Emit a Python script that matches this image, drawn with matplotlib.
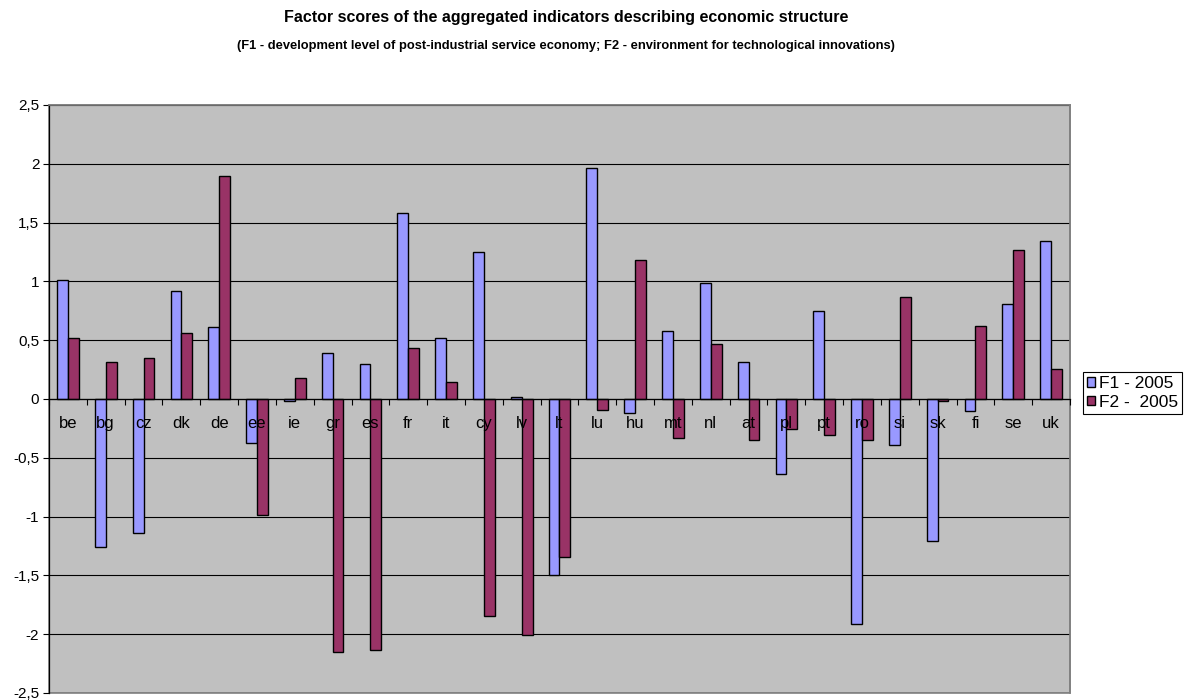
import matplotlib
matplotlib.use("Agg")
import matplotlib.pyplot as plt
import numpy as np
from matplotlib.patches import Patch, Rectangle
from matplotlib.ticker import FixedLocator, FuncFormatter

countries = ["be", "bg", "cz", "dk", "de", "ee", "ie", "gr", "es", "fr", "it", "cy", "lv",
             "lt", "lu", "hu", "mt", "nl", "at", "pl", "pt", "ro", "si", "sk", "fi", "se", "uk"]
f1_2005 = [1.01, -1.26, -1.14, 0.915, 0.615, -0.377, -0.015, 0.39, 0.295, 1.582, 0.521, 1.252, 0.014,
           -1.496, 1.966, -0.119, 0.58, 0.989, 0.311, -0.641, 0.748, -1.910, -0.388, -1.210, -0.102, 0.804, 1.343]
f2_2005 = [0.515, 0.315, 0.345, 0.563, 1.898, -0.983, 0.18, -2.153, -2.131, 0.43, 0.141, -1.848, -2.006,
           -1.340, -0.094, 1.181, -0.335, 0.464, -0.352, -0.255, -0.309, -0.352, 0.864, -0.02, 0.62, 1.266, 0.258]
series_names = ["F1 - 2005", "F2 -  2005"]
yticks = [-2.5, -2, -1.5, -1, -0.5, 0, 0.5, 1, 1.5, 2, 2.5]

plt.rcParams["font.family"] = ["Liberation Sans", "DejaVu Sans"]

fig = plt.figure(figsize=(11.85, 7.0), dpi=100)
ax = fig.add_axes([49 / 1185, 7 / 700, (1070 - 49) / 1185, (693 - 105) / 700])
ax.set_facecolor("#C0C0C0")

x = np.arange(len(countries))
w = 0.286
c1, c2 = "#9999FF", "#993366"
ax.bar(x - w / 2, f1_2005, width=w, color=c1, edgecolor="black", linewidth=1.0, zorder=3)
ax.bar(x + w / 2, f2_2005, width=w, color=c2, edgecolor="black", linewidth=1.0, zorder=3)

ax.set_xlim(-0.5, len(countries) - 0.5)
ax.set_ylim(-2.5, 2.5)

# horizontal gridlines
ax.set_yticks(yticks)
ax.yaxis.set_major_formatter(FuncFormatter(lambda v, p: ("%g" % v).replace(".", ",")))
ax.yaxis.grid(True, color="black", linewidth=0.8, zorder=1)
ax.set_axisbelow(True)
ax.tick_params(axis="y", direction="out", length=4, width=0.8, labelsize=11, pad=3)

# category axis crossing at zero, labels drawn over the bars
ax.spines["bottom"].set_position(("data", 0))
ax.spines["bottom"].set_color("black")
ax.spines["bottom"].set_linewidth(0.9)
ax.spines["bottom"].set_zorder(4)
ax.spines["left"].set_color("black")
ax.spines["left"].set_linewidth(0.9)
for s in ("top", "right"):
    ax.spines[s].set_color("#808080")
    ax.spines[s].set_linewidth(1.2)
ax.add_patch(Rectangle((0, 0), 1, 1, transform=ax.transAxes, fill=False,
                       edgecolor="#808080", linewidth=1.2, zorder=0.5, clip_on=False))

ax.set_xticks(x)
ax.set_xticklabels(countries)
ax.xaxis.set_minor_locator(FixedLocator(np.arange(-0.5, len(countries), 1.0)))
ax.tick_params(axis="x", which="major", length=0, labelsize=12, pad=12)
ax.tick_params(axis="x", which="minor", direction="out", length=4, width=0.8, color="black")
ax.xaxis.set_zorder(5)

fig.text(0.478, 0.975, "Factor scores of the aggregated indicators describing economic structure",
         ha="center", va="center", fontsize=11.5, fontweight="bold")
fig.text(0.478, 0.935, "(F1 - development level of post-industrial service economy; F2 - environment for technological innovations)",
         ha="center", va="center", fontsize=9.25, fontweight="bold")

handles = [Patch(facecolor=c1, edgecolor="black", linewidth=1.0),
           Patch(facecolor=c2, edgecolor="black", linewidth=1.0)]
leg = fig.legend(handles, series_names, loc="upper left", bbox_to_anchor=(1083 / 1185, 1 - 372 / 700),
                 fontsize=12.5, frameon=True, fancybox=False, edgecolor="black", framealpha=1,
                 handlelength=0.45, handleheight=0.45, handletextpad=0.2, borderpad=0.25,
                 labelspacing=0.2, borderaxespad=0)
leg.get_frame().set_linewidth(0.8)

fig.savefig("out.png", dpi=100, facecolor="white")
